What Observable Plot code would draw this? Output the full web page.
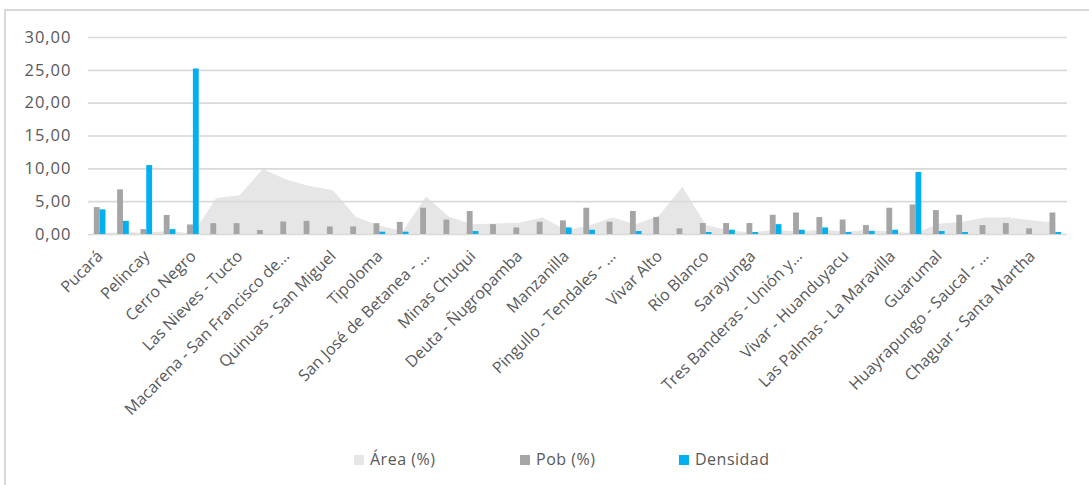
<!DOCTYPE html>
<html>
<head>
<meta charset="utf-8">
<script src="https://cdn.jsdelivr.net/npm/d3@7"></script>
<script src="https://cdn.jsdelivr.net/npm/@observablehq/plot@0.6"></script>
<style>
  html, body { margin: 0; padding: 0; background: #fff; }
  body { width: 1089px; height: 485px; position: relative; overflow: hidden; font-family: "Open Sans", sans-serif; }
  #frame { position: absolute; left: 4px; top: 9px; width: 1200px; height: 600px; border-left: 2px solid #d9d9d9; border-top: 2px solid #d9d9d9; }
  #chart { position: absolute; left: 0; top: 0; }
  .lg { position: absolute; top: 449px; font-size: 16px; letter-spacing: 0.5px; color: #595959; line-height: 20px; white-space: nowrap; }
  .sw { display: inline-block; width: 10px; height: 10px; margin-right: 6px; vertical-align: 0px; }
  g[aria-label="y-axis tick label"] text { letter-spacing: 1px; }
</style>
</head>
<body>
<div id="frame"></div>
<div id="chart"></div>
<div class="lg" style="left:354px"><span class="sw" style="background:#e7e6e6"></span>Área (%)</div>
<div class="lg" style="left:520px"><span class="sw" style="background:#a5a5a5"></span>Pob (%)</div>
<div class="lg" style="left:679px"><span class="sw" style="background:#00b0f0"></span>Densidad</div>
<script>
// Visible category labels (every second category is labelled on the axis)
const tickLabels = [
  "Pucará", "Pelincay", "Cerro Negro", "Las Nieves - Tucto",
  "Macarena - San Francisco de...", "Quinuas - San Miguel", "Tipoloma",
  "San José de Betanea - ...", "Minas Chuqui", "Deuta - Ñugropamba",
  "Manzanilla", "Pingullo - Tendales - ...", "Vivar Alto", "Río Blanco",
  "Sarayunga", "Tres Banderas - Unión y...", "Vivar - Huanduyacu",
  "Las Palmas - La Maravilla", "Guarumal", "Huayrapungo - Saucal - ...",
  "Chaguar - Santa Martha"
];

// Área (%) per category (42 categories)
const areaPct = [
  0.1, 0.3, 0.2, 0.5, 0.05, 5.5, 5.9, 9.9, 8.3, 7.3,
  6.7, 2.6, 1.3, 0.4, 5.7, 2.6, 1.5, 1.6, 1.7, 2.5,
  0.6, 1.3, 2.5, 1.5, 2.8, 7.2, 1.4, 0.5, 0.25, 0.7,
  0.35, 0.7, 0.35, 0.65, 0.35, 0.15, 1.55, 1.85, 2.5, 2.5,
  2.1, 1.7
];

// Pob (%) per category
const pobPct = [
  4.1, 6.8, 0.75, 2.9, 1.45, 1.65, 1.65, 0.6, 1.9, 2.0,
  1.15, 1.15, 1.65, 1.85, 4.0, 2.2, 3.5, 1.5, 1.0, 1.87,
  2.07, 4.0, 1.87, 3.5, 2.58, 0.86, 1.67, 1.67, 1.67, 2.93,
  3.28, 2.58, 2.2, 1.36, 4.0, 4.5, 3.64, 2.93, 1.36, 1.67,
  0.86, 3.28
];

// Densidad per category
const densidad = [
  3.75, 2.0, 10.5, 0.75, 25.2, 0, 0, 0, 0, 0,
  0, 0, 0.35, 0.35, 0, 0, 0.45, 0, 0, 0,
  1.0, 0.65, 0, 0.45, 0, 0, 0.3, 0.65, 0.3, 1.5,
  0.65, 1.0, 0.3, 0.45, 0.65, 9.45, 0.45, 0.3, 0, 0,
  0, 0.3
];

const yTicks = [0, 5, 10, 15, 20, 25, 30];

const rows = areaPct.map((a, i) => ({i, area: a, pob: pobPct[i], dens: densidad[i]}));
const labelIdx = tickLabels.map((_, k) => k * 2);
const fmt = d => d.toFixed(2).replace(".", ",");

const chart = Plot.plot({
  width: 1089,
  height: 440,
  marginLeft: 88,
  marginRight: 22,
  marginTop: 37,
  marginBottom: 206,
  style: {fontFamily: "'Open Sans', sans-serif", color: "#595959", background: "transparent"},
  x: {type: "linear", domain: [-0.5, 41.5], axis: null, label: null},
  y: {domain: [0, 30], axis: null, label: null},
  marks: [
    Plot.areaY(rows, {x: "i", y: "area", fill: "#e7e6e6"}),
    Plot.ruleY(yTicks, {stroke: "#d9d9d9", strokeWidth: 1.6}),
    Plot.rectY(rows, {x1: d => d.i - 0.25, x2: d => d.i, y: "pob", fill: "#a5a5a5"}),
    Plot.rectY(rows, {x1: d => d.i, x2: d => d.i + 0.25, y: "dens", fill: "#00b0f0"}),
    Plot.axisY(yTicks, {tickSize: 0, tickPadding: 17, tickFormat: fmt, fontSize: 16.5, fill: "#595959", label: null}),
    Plot.axisX(labelIdx, {tickSize: 0, tickPadding: 19, tickRotate: -45, tickFormat: i => tickLabels[i / 2], fontSize: 16, fill: "#595959", label: null})
  ]
});
document.getElementById("chart").appendChild(chart);
</script>
</body>
</html>
